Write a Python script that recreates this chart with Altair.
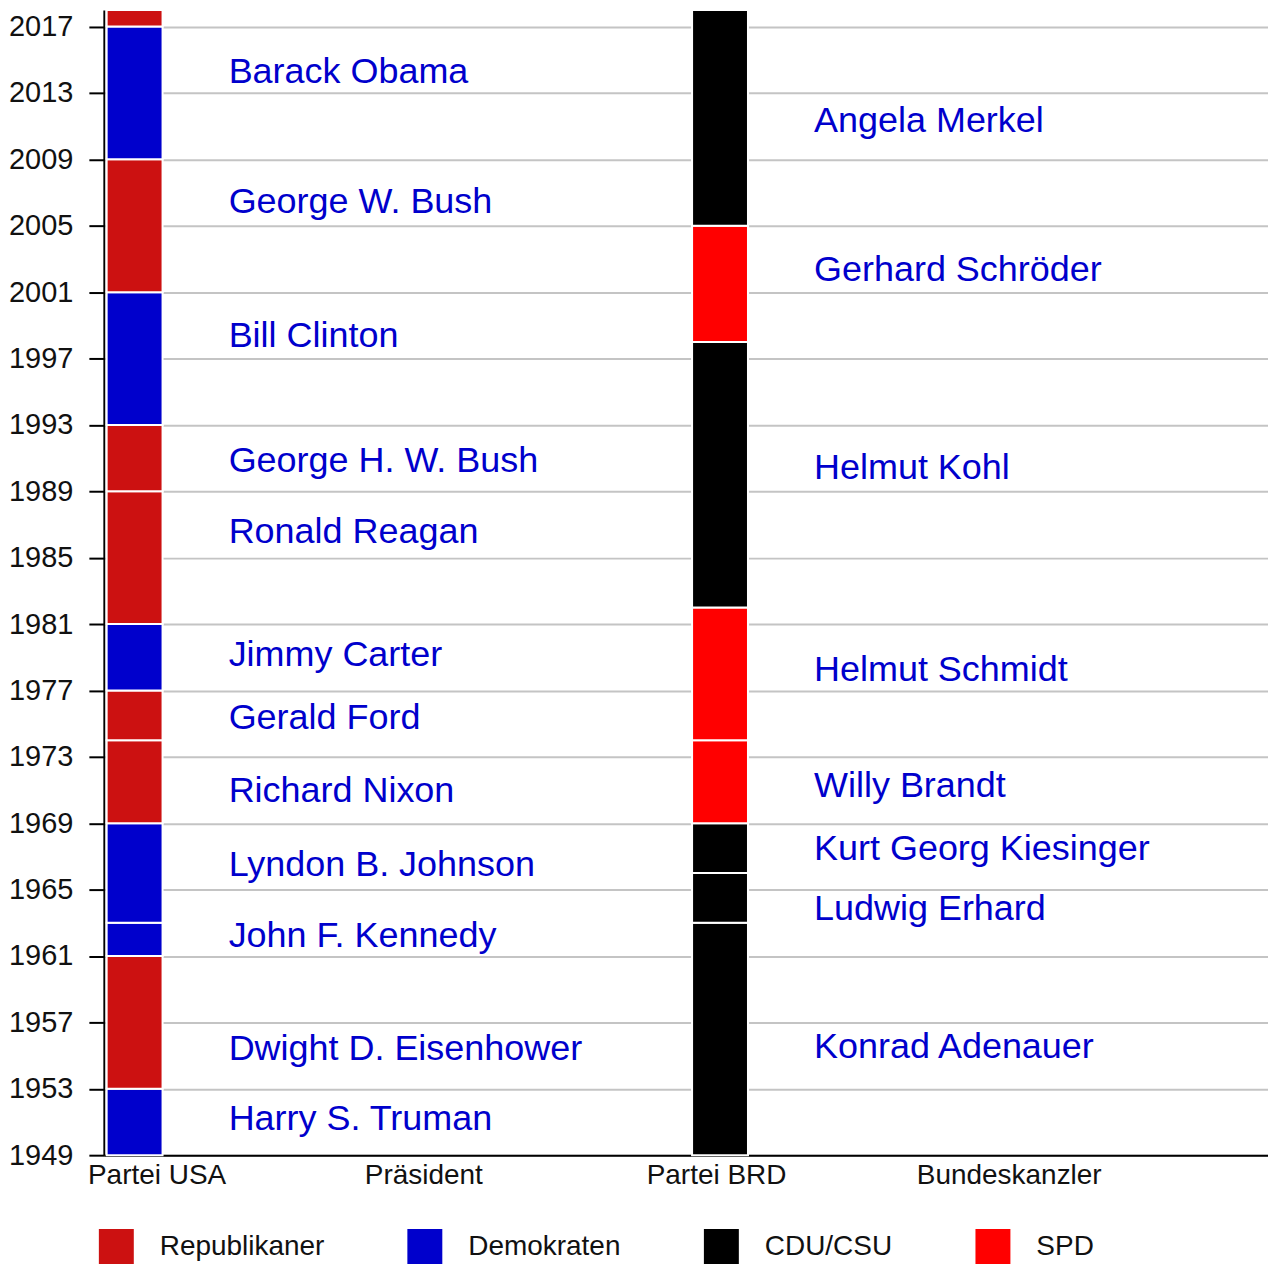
import json
import altair as alt
import pandas as pd

# ---- data ----
columns = ["Partei USA", "Präsident", "Partei BRD", "Bundeskanzler"]
tick_years = list(range(1949, 2018, 4))

parties = ["Republikaner", "Demokraten", "CDU/CSU", "SPD"]
party_colors = ["#cc1111", "#0000cc", "#000000", "#ff0000"]

# USA (column "Partei USA")
us_start = [1949, 1953, 1961, 1963, 1969, 1974, 1977, 1981, 1989, 1993, 2001, 2009, 2017]
us_end = [1953, 1961, 1963, 1969, 1974, 1977, 1981, 1989, 1993, 2001, 2009, 2017, 2018]
us_party = ["Demokraten", "Republikaner", "Demokraten", "Demokraten", "Republikaner",
            "Republikaner", "Demokraten", "Republikaner", "Republikaner", "Demokraten",
            "Republikaner", "Demokraten", "Republikaner"]

us_names = ["Harry S. Truman", "Dwight D. Eisenhower", "John F. Kennedy", "Lyndon B. Johnson",
            "Richard Nixon", "Gerald Ford", "Jimmy Carter", "Ronald Reagan",
            "George H. W. Bush", "Bill Clinton", "George W. Bush", "Barack Obama"]
us_label_year = [1950.5, 1954.72, 1961.57, 1965.8, 1970.28, 1974.65, 1978.46, 1985.9,
                 1990.16, 1997.7, 2005.76, 2013.62]

# BRD (column "Partei BRD")
de_start = [1949, 1963, 1966, 1969, 1974, 1982, 1998, 2005]
de_end = [1963, 1966, 1969, 1974, 1982, 1998, 2005, 2018]
de_party = ["CDU/CSU", "CDU/CSU", "CDU/CSU", "SPD", "SPD", "CDU/CSU", "SPD", "CDU/CSU"]

de_names = ["Konrad Adenauer", "Ludwig Erhard", "Kurt Georg Kiesinger", "Willy Brandt",
            "Helmut Schmidt", "Helmut Kohl", "Gerhard Schröder", "Angela Merkel"]
de_label_year = [1954.86, 1963.14, 1966.8, 1970.56, 1977.6, 1989.76, 2001.65, 2010.65]

# ---- tables ----
bars = pd.concat([
    pd.DataFrame({"col": columns.index("Partei USA"), "start": us_start, "end": us_end, "party": us_party}),
    pd.DataFrame({"col": columns.index("Partei BRD"), "start": de_start, "end": de_end, "party": de_party}),
], ignore_index=True)

labels = pd.concat([
    pd.DataFrame({"col": columns.index("Präsident"), "year": us_label_year, "name": us_names}),
    pd.DataFrame({"col": columns.index("Bundeskanzler"), "year": de_label_year, "name": de_names}),
], ignore_index=True)

FONT = "Liberation Sans"
col_expr = json.dumps(columns, ensure_ascii=False)

x_scale = alt.Scale(domain=[-0.088, 3.855], nice=False, zero=False)
x_axis = alt.Axis(
    values=[0, 1, 2, 3],
    labelExpr=f"{col_expr}[datum.value]",
    ticks=False, grid=False, title=None,
    domainColor="black", domainWidth=2,
    labelFont=FONT, labelFontSize=28, labelColor="#111",
    labelPadding=6, labelFlush=False, labelLimit=0,
    labelOffset={"condition": {"test": "datum.value == 0", "value": 22}, "value": -4},
)
y_scale = alt.Scale(domain=[1949, 2018], nice=False, zero=False)
y_axis = alt.Axis(
    values=tick_years, format="d", title=None,
    tickSize=15, tickColor="black", tickWidth=2,
    domainColor="black", domainWidth=2,
    grid=True, gridColor="#c4c4c4", gridWidth=2,
    labelFont=FONT, labelFontSize=29, labelColor="#111", labelPadding=16,
)

bar_layer = alt.Chart(bars).mark_bar(
    size=56, orient="vertical", stroke="white", strokeWidth=2
).encode(
    x=alt.X("col:Q", scale=x_scale, axis=x_axis),
    y=alt.Y("start:Q", scale=y_scale, axis=y_axis),
    y2="end:Q",
    color=alt.Color(
        "party:N",
        scale=alt.Scale(domain=parties, range=party_colors),
        legend=alt.Legend(
            title=None, orient="none", legendX=-5, legendY=1221,
            direction="horizontal", symbolType="square", symbolSize=1225,
            symbolStrokeWidth=0, labelFont=FONT, labelFontSize=28, labelLimit=0,
            labelColor="#111", labelOffset=26, columnPadding=83, padding=0,
        ),
    ),
)

text_layer = alt.Chart(labels).mark_text(
    align="left", baseline="alphabetic", dx=-199,
    font=FONT, fontSize=36, color="#0000cc",
).encode(
    x=alt.X("col:Q", scale=x_scale, axis=x_axis),
    y=alt.Y("year:Q", scale=y_scale, axis=y_axis),
    text="name:N",
)

chart = alt.layer(bar_layer, text_layer).properties(
    width=1166, height=1147, padding=0,
).configure_view(strokeWidth=0)

chart.save("out.html", embed_options={"renderer": "svg", "actions": False})
